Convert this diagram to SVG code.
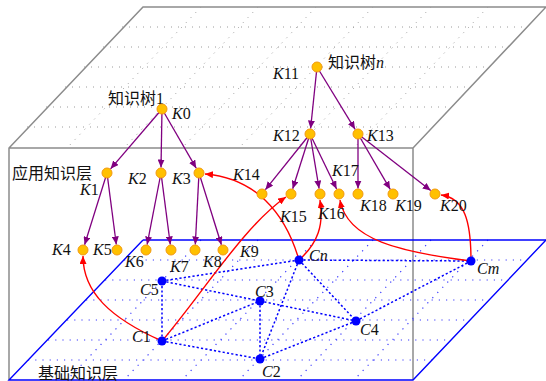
<svg xmlns="http://www.w3.org/2000/svg" width="546" height="381" viewBox="0 0 546 381">
<defs>
<marker id="ap" markerUnits="userSpaceOnUse" markerWidth="9" markerHeight="7" refX="8" refY="3.5" orient="auto"><path d="M0,0 L8,3.5 L0,7 z" fill="#800080"/></marker>
<marker id="ar" markerUnits="userSpaceOnUse" markerWidth="9" markerHeight="7" refX="8" refY="3.5" orient="auto"><path d="M0,0 L8,3.5 L0,7 z" fill="#FF0000"/></marker>
<style>
.box{fill:none;stroke:#8c8c8c;stroke-width:1.5}
.gg{fill:none;stroke:#9a9a9a;stroke-width:1;stroke-dasharray:1,6}
.bg{fill:none;stroke:#3a3aff;stroke-width:1.2;stroke-dasharray:1.2,6}
.plane{fill:none;stroke:#0000FF;stroke-width:1.4}
.be{fill:none;stroke:#0000FF;stroke-width:1.5;stroke-dasharray:2.2,2.2}
.pe{fill:none;stroke:#800080;stroke-width:1.3;marker-end:url(#ap)}
.re{fill:none;stroke:#FF0000;stroke-width:1.4;marker-end:url(#ar)}
.k{fill:#FFC000;stroke:#F29A10;stroke-width:1}
.c{fill:#0000FF}
text{font-family:"Liberation Serif","Noto Sans CJK SC",serif;font-size:16px;fill:#111}
.i{font-style:italic}
</style>
</defs>
<g id="box">
<path class="box" d="M9,380 L9,148 L143,7 L546,7 L413,148 L413,380 M9,148 L413,148"/>
<path class="gg" d="M122,27 L527,27 M103,47 L508,47 M84,67 L489,67 M65,87 L470,87 M46,107 L451,107 M27,127 L432,127 M201,7 L67,148 M258,7 L124,148 M316,7 L182,148 M373,7 L239,148 M431,7 L297,148 M488,7 L354,148"/>
</g>
<g id="plane">
<path class="bg" d="M124,260 L527,260 M105,280 L508,280 M86,300 L489,300 M67,320 L470,320 M48,340 L451,340 M28,360 L432,360 M201,240 L67,380 M258,240 L124,380 M316,240 L182,380 M373,240 L239,380 M431,240 L297,380 M488,240 L354,380"/>
<path class="plane" d="M143,240 L9,380 L413,380 L546,240"/>
<path class="plane" d="M143,240 L546,240" stroke-width="2.4"/>
</g>
<g id="connectors">
<path class="be" d="M162,341 L162,281 M162,341 L260,301 M162,341 L260,359 M260,301 L260,359 M162,281 L260,301 M260,301 L356,321 M162,281 L299,260 M299,260 L471,261 M299,260 L260,359 M299,260 L356,321 M356,321 L471,261 M260,359 L356,321"/>
<path class="pe" d="M162,109 L110.6,168.8"/>
<path class="pe" d="M162,109 L161,167.5"/>
<path class="pe" d="M162,109 L196.2,168.2"/>
<path class="pe" d="M107,173 L84.6,244.8"/>
<path class="pe" d="M107,173 L116.3,244.5"/>
<path class="pe" d="M161,173 L147.1,244.6"/>
<path class="pe" d="M161,173 L170.3,244.5"/>
<path class="pe" d="M199,173 L195.3,244.5"/>
<path class="pe" d="M199,173 L221.4,244.8"/>
<path class="pe" d="M317,67 L310.6,128.5"/>
<path class="pe" d="M317,67 L355.1,129.3"/>
<path class="pe" d="M310,134 L265.4,189.7"/>
<path class="pe" d="M310,134 L292.7,188.8"/>
<path class="pe" d="M310,134 L319.1,188.6"/>
<path class="pe" d="M310,134 L336.6,189"/>
<path class="pe" d="M358,134 L358,188.5"/>
<path class="pe" d="M358,134 L390.2,189.3"/>
<path class="pe" d="M358,134 L430.7,190.6"/>
<path class="re" d="M162,341 C110,318 83,292 83,256"/>
<path class="re" d="M162,341 C205,290 245,225 286,197"/>
<path class="re" d="M299,260 C285,212 255,178 205,174"/>
<path class="re" d="M299,260 C318,243 324,225 320,200"/>
<path class="re" d="M471,261 C400,252 347,240 340,200"/>
<path class="re" d="M471,261 C471,222 465,198 441,195"/>
</g>
<g id="labels">
<text x="108" y="104">知识树1</text>
<text x="328" y="68">知识树<tspan class="i">n</tspan></text>
<text x="12" y="179">应用知识层</text>
<text x="38" y="379">基础知识层</text>
</g>
<g id="K0"><circle class="k" cx="162" cy="109" r="5"/><text x="172" y="119"><tspan class="i">K</tspan>0</text></g>
<g id="K1"><circle class="k" cx="107" cy="173" r="5"/><text x="80" y="195"><tspan class="i">K</tspan>1</text></g>
<g id="K2"><circle class="k" cx="161" cy="173" r="5"/><text x="128" y="184"><tspan class="i">K</tspan>2</text></g>
<g id="K3"><circle class="k" cx="199" cy="173" r="5"/><text x="172" y="184"><tspan class="i">K</tspan>3</text></g>
<g id="K4"><circle class="k" cx="83" cy="250" r="5"/><text x="52" y="255"><tspan class="i">K</tspan>4</text></g>
<g id="K5"><circle class="k" cx="117" cy="250" r="5"/><text x="93" y="255"><tspan class="i">K</tspan>5</text></g>
<g id="K6"><circle class="k" cx="146" cy="250" r="5"/><text x="125" y="267"><tspan class="i">K</tspan>6</text></g>
<g id="K7"><circle class="k" cx="171" cy="250" r="5"/><text x="170" y="272"><tspan class="i">K</tspan>7</text></g>
<g id="K8"><circle class="k" cx="195" cy="250" r="5"/><text x="203" y="267"><tspan class="i">K</tspan>8</text></g>
<g id="K9"><circle class="k" cx="223" cy="250" r="5"/><text x="240" y="257"><tspan class="i">K</tspan>9</text></g>
<g id="K11"><circle class="k" cx="317" cy="67" r="5"/><text x="273" y="79"><tspan class="i">K</tspan>11</text></g>
<g id="K12"><circle class="k" cx="310" cy="134" r="5"/><text x="273" y="141"><tspan class="i">K</tspan>12</text></g>
<g id="K13"><circle class="k" cx="358" cy="134" r="5"/><text x="367" y="141"><tspan class="i">K</tspan>13</text></g>
<g id="K14"><circle class="k" cx="262" cy="194" r="5"/><text x="233" y="180"><tspan class="i">K</tspan>14</text></g>
<g id="K15"><circle class="k" cx="291" cy="194" r="5"/><text x="280" y="222"><tspan class="i">K</tspan>15</text></g>
<g id="K16"><circle class="k" cx="320" cy="194" r="5"/><text x="318" y="219"><tspan class="i">K</tspan>16</text></g>
<g id="K17"><circle class="k" cx="339" cy="194" r="5"/><text x="332" y="176"><tspan class="i">K</tspan>17</text></g>
<g id="K18"><circle class="k" cx="358" cy="194" r="5"/><text x="360" y="211"><tspan class="i">K</tspan>18</text></g>
<g id="K19"><circle class="k" cx="393" cy="194" r="5"/><text x="395" y="211"><tspan class="i">K</tspan>19</text></g>
<g id="K20"><circle class="k" cx="435" cy="194" r="5"/><text x="440" y="211"><tspan class="i">K</tspan>20</text></g>
<g id="C1"><circle class="c" cx="162" cy="341" r="4.5"/><text x="132" y="342"><tspan class="i">C</tspan>1</text></g>
<g id="C2"><circle class="c" cx="260" cy="359" r="4.5"/><text x="262" y="377"><tspan class="i">C</tspan>2</text></g>
<g id="C3"><circle class="c" cx="260" cy="301" r="4.5"/><text x="255" y="297"><tspan class="i">C</tspan>3</text></g>
<g id="C4"><circle class="c" cx="356" cy="321" r="4.5"/><text x="360" y="335"><tspan class="i">C</tspan>4</text></g>
<g id="C5"><circle class="c" cx="162" cy="281" r="4.5"/><text x="140" y="295"><tspan class="i">C</tspan>5</text></g>
<g id="Cn"><circle class="c" cx="299" cy="260" r="4.5"/><text x="309" y="261" class="i">Cn</text></g>
<g id="Cm"><circle class="c" cx="471" cy="261" r="4.5"/><text x="477" y="274" class="i">Cm</text></g>
</svg>
